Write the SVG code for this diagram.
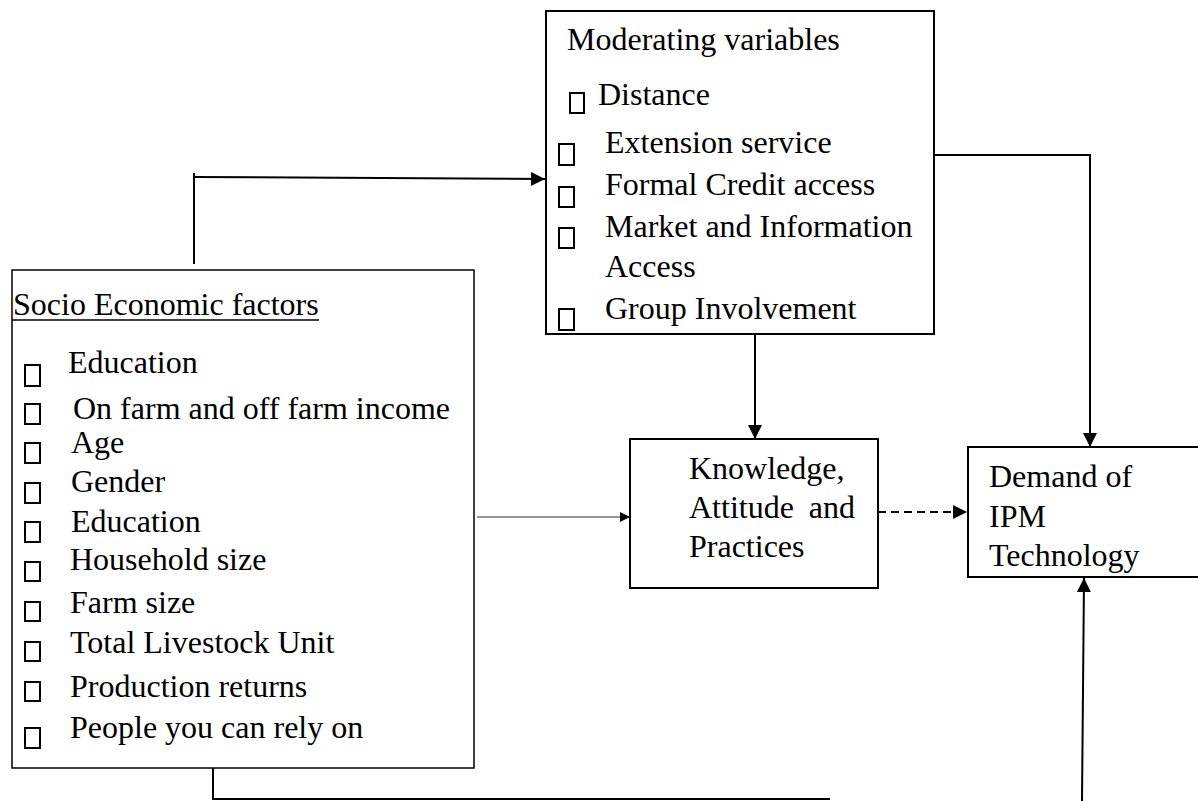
<svg xmlns="http://www.w3.org/2000/svg" width="1198" height="801" viewBox="0 0 1198 801">
<defs>
<marker id="ah" viewBox="0 0 10 10" refX="10" refY="5" markerWidth="15" markerHeight="14" markerUnits="userSpaceOnUse" orient="auto">
<path d="M0,0 L10,5 L0,10 Z" fill="#000"/>
</marker>
<marker id="ahs" viewBox="0 0 10 10" refX="10" refY="5" markerWidth="10" markerHeight="10" markerUnits="userSpaceOnUse" orient="auto">
<path d="M0,0 L10,5 L0,10 Z" fill="#000"/>
</marker>
</defs>
<style>
.box{fill:#fff;stroke:#000;stroke-width:2}
.thin{fill:#fff;stroke:#000;stroke-width:1.5}
.t{font-family:"Liberation Serif","Times New Roman",serif;font-size:32px;fill:#000}
.b{fill:none;stroke:#000;stroke-width:2}
.c{fill:none;stroke:#000;stroke-width:2}
</style>
<rect width="1198" height="801" fill="#fff"/>
<g id="connectors">
<polyline class="c" points="194,264 194,173"/>
<line class="c" x1="194" y1="177" x2="545" y2="179" marker-end="url(#ah)"/>
<polyline class="c" points="934,155 1090,155 1090,447" marker-end="url(#ah)"/>
<line class="c" x1="755" y1="334" x2="755" y2="439" marker-end="url(#ah)"/>
<line x1="477" y1="517" x2="630" y2="517" stroke="#333" stroke-width="1.2" marker-end="url(#ahs)"/>
<line class="c" x1="878" y1="512" x2="967" y2="512" stroke-width="1.5" stroke-dasharray="8,5" marker-end="url(#ah)"/>
<polyline class="c" points="213,768 213,799 830,799"/>
<line class="c" x1="1082" y1="801" x2="1084" y2="578" marker-end="url(#ah)"/>
</g>
<g id="moderating">
<rect class="box" x="546" y="11" width="388" height="323"/>
<text class="t" x="567" y="50">Moderating variables</text>
<rect class="b" x="570" y="93" width="14" height="20"/>
<text class="t" x="598" y="105">Distance</text>
<rect class="b" x="559" y="144" width="15" height="21"/>
<text class="t" x="605" y="153">Extension service</text>
<rect class="b" x="559" y="187" width="15" height="20"/>
<text class="t" x="605" y="195">Formal Credit access</text>
<rect class="b" x="559" y="228" width="15" height="20"/>
<text class="t" x="605" y="237">Market and Information</text>
<text class="t" x="605" y="277">Access</text>
<rect class="b" x="559" y="309" width="15" height="21"/>
<text class="t" x="605" y="319">Group Involvement</text>
</g>
<g id="socio">
<rect class="thin" x="12" y="270" width="462" height="498"/>
<text class="t" x="13" y="315">Socio Economic factors</text>
<line x1="12" y1="320" x2="319" y2="320" stroke="#000" stroke-width="1.5"/>
<rect class="b" x="25" y="365" width="15" height="21"/>
<text class="t" x="68" y="373">Education</text>
<rect class="b" x="25" y="404" width="15" height="20"/>
<text class="t" x="73" y="419">On farm and off farm income</text>
<rect class="b" x="25" y="443" width="15" height="20"/>
<text class="t" x="71" y="453">Age</text>
<rect class="b" x="25" y="483" width="15" height="20"/>
<text class="t" x="71" y="492">Gender</text>
<rect class="b" x="25" y="522" width="15" height="20"/>
<text class="t" x="71" y="532">Education</text>
<rect class="b" x="25" y="562" width="15" height="19"/>
<text class="t" x="70" y="570">Household size</text>
<rect class="b" x="25" y="602" width="15" height="19"/>
<text class="t" x="70" y="613">Farm size</text>
<rect class="b" x="25" y="642" width="15" height="19"/>
<text class="t" x="70" y="653">Total Livestock Unit</text>
<rect class="b" x="25" y="682" width="15" height="19"/>
<text class="t" x="70" y="697">Production returns</text>
<rect class="b" x="25" y="728" width="15" height="20"/>
<text class="t" x="70" y="738">People you can rely on</text>
</g>
<g id="kap">
<rect class="box" x="630" y="439" width="248" height="149"/>
<text class="t" x="689" y="479">Knowledge,</text>
<text class="t" x="689" y="518">Attitude</text>
<text class="t" x="855" y="518" text-anchor="end">and</text>
<text class="t" x="689" y="557">Practices</text>
</g>
<g id="demand">
<rect class="box" x="968" y="447" width="240" height="130"/>
<text class="t" x="989" y="487">Demand of</text>
<text class="t" x="989" y="527">IPM</text>
<text class="t" x="989" y="566">Technology</text>
</g>
</svg>
